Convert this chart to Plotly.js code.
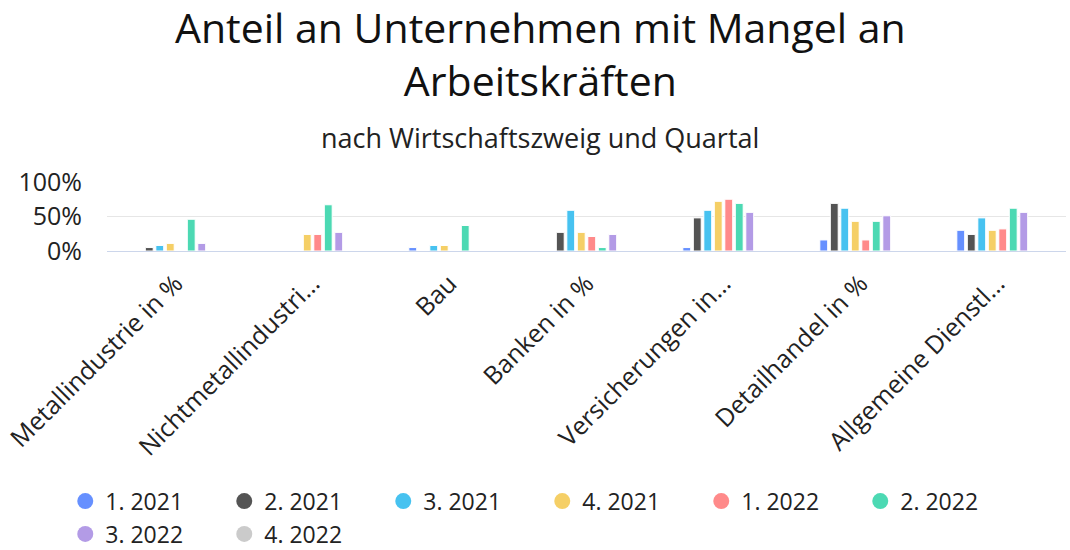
<!DOCTYPE html>
<html>
<head>
<meta charset="utf-8">
<script src="https://cdn.plot.ly/plotly-3.0.1.min.js"></script>
<style>html,body{margin:0;padding:0;background:#fff}#chart{width:1070px;height:550px}</style>
</head>
<body>
<div id="chart"></div>
<script>
const categories = ["Metallindustrie in %", "Nichtmetallindustrie in %", "Bau", "Banken in %", "Versicherungen in %", "Detailhandel in %", "Allgemeine Dienstleistungen in %"];
const tickLabels = ["Metallindustrie in %", "Nichtmetallindustri…", "Bau", "Banken in %", "Versicherungen in…", "Detailhandel in %", "Allgemeine Dienstl…"];
const yTickValues = [0, 50, 100];
const yTickLabels = ["0%", "50%", "100%"];
const seriesNames = ["1. 2021", "2. 2021", "3. 2021", "4. 2021", "1. 2022", "2. 2022", "3. 2022", "4. 2022"];
const q1_2021 = [null, null, 5, null, 5, 16, 30];
const q2_2021 = [5, null, null, 27, 48, 69, 24];
const q3_2021 = [8, null, 8, 59, 59, 62, 48];
const q4_2021 = [11, 24, 8, 27, 72, 43, 30];
const q1_2022 = [null, 24, null, 21, 75, 16, 32];
const q2_2022 = [46, 67, 37, 5, 69, 43, 62];
const q3_2022 = [11, 27, null, 24, 56, 51, 56];
const q4_2022 = [null, null, null, null, null, null, null];
const seriesValues = [q1_2021, q2_2021, q3_2021, q4_2021, q1_2022, q2_2022, q3_2022, q4_2022];
const colors = ["#6690ff", "#545454", "#47c2f0", "#f5cf66", "#ff8a8a", "#4cd9b3", "#b39be6", "#cbcbcb"];

const font = "'Open Sans', Lato, sans-serif";
const traces = [];
seriesNames.forEach((n, i) => {
  traces.push({
    type: "bar", name: n, x: categories, y: seriesValues[i],
    marker: {color: colors[i], line: {color: "#ffffff", width: 1}},
    legendgroup: n, showlegend: false,
    hovertemplate: "%{x}<br>" + n + ": %{y}%<extra></extra>"
  });
});
seriesNames.forEach((n, i) => {
  traces.push({
    type: "scatter", mode: "markers", name: n, x: [null], y: [null],
    marker: {color: colors[i], size: 22, symbol: "circle"},
    legendgroup: n, showlegend: true, hoverinfo: "skip"
  });
});

const layout = {
  width: 1070, height: 550,
  paper_bgcolor: "#ffffff", plot_bgcolor: "#ffffff",
  font: {family: font, color: "#333333"},
  margin: {l: 107, r: 4, t: 182, b: 299},
  title: {
    text: "Anteil an Unternehmen mit Mangel an<br>Arbeitskräften",
    font: {family: font, size: 41, color: "#111111"},
    x: 0.505, xanchor: "center", xref: "container",
    y: 0.922, yanchor: "top", yref: "container"
  },
  annotations: [{
    text: "nach Wirtschaftszweig und Quartal",
    xref: "paper", yref: "paper", x: 0.4515, y: 1.64,
    xanchor: "center", yanchor: "middle", showarrow: false,
    font: {family: font, size: 27, color: "#222222"}
  }],
  barmode: "group", bargap: 0.387, bargroupgap: 0.25,
  xaxis: {
    type: "category", tickvals: categories, ticktext: tickLabels,
    tickangle: -45, tickfont: {family: font, size: 25, color: "#222222"},
    showline: true, linecolor: "#ccd6eb", linewidth: 1,
    showgrid: false, ticks: "", fixedrange: true, ticklabelstandoff: 7
  },
  yaxis: {
    range: [0, 100], tickmode: "array", tickvals: yTickValues, ticktext: yTickLabels,
    tickfont: {family: font, size: 25, color: "#222222"},
    gridcolor: "#e6e6e6", gridwidth: 1, zeroline: false,
    showline: false, ticks: "", fixedrange: true, ticklabelstandoff: 24
  },
  showlegend: true,
  legend: {
    orientation: "h", xref: "container", yref: "container",
    x: 0.061, xanchor: "left", y: 0.128, yanchor: "top",
    entrywidth: 114, entrywidthmode: "pixels",
    font: {family: font, size: 23, color: "#222222"},
    itemsizing: "trace", tracegroupgap: 0
  }
};
Plotly.newPlot("chart", traces, layout, {displayModeBar: false, responsive: false});
</script>
</body>
</html>
